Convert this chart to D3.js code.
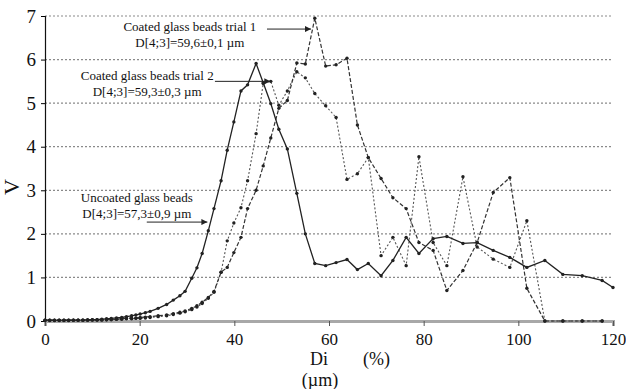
<!DOCTYPE html>
<html>
<head>
<meta charset="utf-8">
<script src="https://cdn.jsdelivr.net/npm/d3@7"></script>
<style>
  body { margin: 0; background: #fff; }
  svg text { font-family: "Liberation Serif", "Times New Roman", serif; fill: #111; }
</style>
</head>
<body>
<script>
// tick labels
let xTicks = [0, 20, 40, 60, 80, 100, 120];
let yTicks = [0, 1, 2, 3, 4, 5, 6, 7];

// uncoated glass beads (solid line)
let uncoatedDi = [0, 1, 2, 3, 4, 5, 6, 7, 8, 9, 10, 11, 12, 13, 14, 15.1, 16.2, 17.2, 18.3, 19.2, 20.1, 21.2, 22.2, 23.9, 25.7, 27.1, 28.5, 29.6, 31.0, 32.1, 33.2, 34.5, 35.7, 37.2, 38.5, 39.9, 41.4, 42.8, 44.6, 46.1, 47.7, 49.4, 51.2, 53.2, 55.0, 57.0, 59.3, 61.5, 63.8, 66.0, 68.3, 71.0, 73.5, 76.3, 79.0, 82.0, 84.9, 88.3, 91.3, 94.7, 98.2, 101.8, 105.6, 109.4, 113.5, 117.7, 120];
let uncoatedV = [0.02, 0.02, 0.02, 0.02, 0.02, 0.02, 0.02, 0.02, 0.02, 0.03, 0.03, 0.03, 0.04, 0.05, 0.06, 0.07, 0.08, 0.10, 0.12, 0.14, 0.16, 0.19, 0.22, 0.29, 0.38, 0.48, 0.58, 0.68, 0.98, 1.22, 1.55, 2.07, 2.58, 3.22, 3.92, 4.57, 5.28, 5.42, 5.91, 5.47, 4.99, 4.40, 3.95, 2.93, 2.0, 1.32, 1.27, 1.34, 1.41, 1.18, 1.32, 1.04, 1.39, 1.92, 1.55, 1.89, 1.94, 1.78, 1.80, 1.62, 1.46, 1.23, 1.39, 1.07, 1.04, 0.93, 0.77];

// coated glass beads trial 1 (dashed line)
let trial1Di = [0, 1, 2, 3, 4, 5, 6, 7, 8, 9, 10, 11, 12, 13, 14, 15.1, 16.2, 17.2, 18.3, 19.2, 20.1, 21.2, 22.2, 23.9, 25.7, 27.1, 28.5, 29.6, 31.0, 32.1, 33.2, 34.5, 35.7, 37.2, 38.5, 39.9, 41.4, 42.8, 44.6, 46.1, 47.7, 49.4, 51.2, 53.2, 55.0, 57.0, 59.3, 61.5, 63.8, 66.0, 68.3, 71.0, 73.5, 76.3, 79.0, 82.0, 84.9, 88.3, 91.3, 94.7, 98.2, 101.8, 105.6, 109.4, 113.5, 117.7];
let trial1V = [0.02, 0.02, 0.02, 0.02, 0.02, 0.02, 0.02, 0.02, 0.02, 0.02, 0.03, 0.03, 0.03, 0.03, 0.04, 0.04, 0.05, 0.06, 0.07, 0.07, 0.08, 0.09, 0.10, 0.12, 0.14, 0.17, 0.20, 0.23, 0.29, 0.35, 0.43, 0.54, 0.68, 1.12, 1.23, 1.57, 1.92, 2.58, 3.0, 3.56, 4.2, 4.88, 5.06, 5.92, 5.9, 6.95, 5.85, 5.88, 6.03, 4.5, 3.75, 3.27, 2.83, 2.58, 1.8, 1.62, 0.70, 1.16, 1.80, 2.95, 3.29, 0.75, 0, 0, 0, 0];

// coated glass beads trial 2 (dotted line)
let trial2Di = [0, 1, 2, 3, 4, 5, 6, 7, 8, 9, 10, 11, 12, 13, 14, 15.1, 16.2, 17.2, 18.3, 19.2, 20.1, 21.2, 22.2, 23.9, 25.7, 27.1, 28.5, 29.6, 31.0, 32.1, 33.2, 34.5, 35.7, 37.2, 38.5, 39.9, 41.4, 42.8, 44.6, 46.1, 47.7, 49.4, 51.2, 53.2, 55.0, 57.0, 59.3, 61.5, 63.8, 66.0, 68.3, 71.0, 73.5, 76.3, 79.0, 82.0, 84.9, 88.3, 91.3, 94.7, 98.2, 101.8, 105.6, 109.4, 113.5, 117.7];
let trial2V = [0.01, 0.01, 0.01, 0.01, 0.01, 0.01, 0.02, 0.02, 0.02, 0.02, 0.02, 0.02, 0.02, 0.03, 0.03, 0.04, 0.04, 0.05, 0.05, 0.06, 0.06, 0.07, 0.08, 0.10, 0.12, 0.15, 0.18, 0.21, 0.26, 0.32, 0.40, 0.52, 0.66, 1.12, 1.84, 2.25, 2.6, 3.22, 4.3, 5.45, 5.5, 4.95, 5.28, 5.72, 5.58, 5.22, 4.94, 4.67, 3.25, 3.38, 3.75, 1.5, 1.92, 1.27, 3.77, 1.8, 1.27, 3.31, 1.7, 1.42, 1.23, 2.30, 0, 0, 0, 0];

let width = 626, height = 389;
let serif = "'Liberation Serif', 'Times New Roman', serif";

let svg = d3.select("body").append("svg")
    .attr("width", width)
    .attr("height", height)
    .style("font-family", serif);

// scales
let xScale = d3.scaleLinear().domain([0, 120]).range([45, 613]);
let yScale = d3.scaleLinear().domain([0, 7]).range([321, 16]);

// arrow head
svg.append("defs").append("marker")
    .attr("id", "arrow")
    .attr("viewBox", "0 0 10 10")
    .attr("refX", 10).attr("refY", 5)
    .attr("markerWidth", 9).attr("markerHeight", 6)
    .attr("markerUnits", "userSpaceOnUse")
    .attr("orient", "auto")
  .append("path")
    .attr("d", "M0,0L10,5L0,10z")
    .attr("fill", "#222");

// horizontal dotted grid lines
svg.append("g")
  .selectAll("line")
  .data(yTicks.slice(1))
  .enter().append("line")
    .attr("x1", xScale(0))
    .attr("x2", xScale(120))
    .attr("y1", d => yScale(d))
    .attr("y2", d => yScale(d))
    .attr("stroke", "#8a8a8a")
    .attr("stroke-width", 1.2)
    .attr("stroke-dasharray", "2,2");

// x axis (grey baseline)
let xAxis = svg.append("g")
    .attr("transform", "translate(0," + yScale(0) + ")")
    .call(d3.axisBottom(xScale).tickValues(xTicks).tickFormat(d3.format("d")).tickSize(5).tickPadding(7));
xAxis.attr("font-family", null);
xAxis.select(".domain").attr("stroke", "#a8a8a8").attr("stroke-width", 3);
xAxis.selectAll(".tick line").attr("stroke", "#555");
xAxis.selectAll("text")
    .style("font-family", serif)
    .attr("font-size", 17)
    .attr("fill", "#111");

// y axis
let yAxis = svg.append("g")
    .attr("transform", "translate(" + xScale(0) + ",0)")
    .call(d3.axisLeft(yScale).tickValues(yTicks).tickFormat(d3.format("d")).tickSize(4).tickPadding(5));
yAxis.attr("font-family", null);
yAxis.select(".domain").attr("stroke", "#111").attr("stroke-width", 1.2);
yAxis.selectAll("text")
    .style("font-family", serif)
    .attr("font-size", 19)
    .attr("fill", "#111");

// series
let series = [
  {di: trial2Di, v: trial2V, color: "#555", width: 1.1, dash: "2,2"},
  {di: trial1Di, v: trial1V, color: "#333", width: 1.2, dash: "4,2"},
  {di: uncoatedDi, v: uncoatedV, color: "#222", width: 1.3, dash: null}
];

let line = d3.line()
    .x(d => xScale(d[0]))
    .y(d => yScale(d[1]));

series.forEach(function(s) {
  let pts = s.di.map((d, i) => [d, s.v[i]]);
  svg.append("path")
      .datum(pts)
      .attr("fill", "none")
      .attr("stroke", s.color)
      .attr("stroke-width", s.width)
      .attr("stroke-dasharray", s.dash)
      .attr("d", line);
  svg.append("g")
    .selectAll("circle")
    .data(pts)
    .enter().append("circle")
      .attr("cx", d => xScale(d[0]))
      .attr("cy", d => yScale(d[1]))
      .attr("r", 1.7)
      .attr("fill", "#222");
});

// axis titles
svg.append("text")
    .attr("transform", "translate(19,187) rotate(-90)")
    .attr("text-anchor", "middle")
    .attr("font-size", 22)
    .text("V");

svg.append("text")
    .attr("x", 319).attr("y", 365)
    .attr("text-anchor", "middle")
    .attr("font-size", 18)
    .text("Di");
svg.append("text")
    .attr("x", 363).attr("y", 365)
    .attr("font-size", 18)
    .text("(%)");
svg.append("text")
    .attr("x", 320).attr("y", 386)
    .attr("text-anchor", "middle")
    .attr("font-size", 18)
    .text("(µm)");

// annotations
let notes = [
  {lines: ["Coated glass beads trial 1", "D[4;3]=59,6±0,1 µm"], x: 30.6, y: 6.66, ax1: 46.9, ax2: 56.2, ay: 6.7},
  {lines: ["Coated glass beads trial 2", "D[4;3]=59,3±0,3 µm"], x: 21.6, y: 5.52, ax1: 35.9, ax2: 47.6, ay: 5.5},
  {lines: ["Uncoated glass beads", "D[4;3]=57,3±0,9 µm"], x: 19.4, y: 2.72, ax1: 21.5, ax2: 34.3, ay: 2.27}
];

notes.forEach(function(n) {
  let t = svg.append("text")
      .attr("text-anchor", "middle")
      .attr("font-size", 13);
  n.lines.forEach(function(l, i) {
    t.append("tspan")
        .attr("x", xScale(n.x))
        .attr("y", yScale(n.y) + i * 16)
        .text(l);
  });
  svg.append("line")
      .attr("x1", xScale(n.ax1)).attr("x2", xScale(n.ax2))
      .attr("y1", yScale(n.ay)).attr("y2", yScale(n.ay))
      .attr("stroke", "#222")
      .attr("stroke-width", 1)
      .attr("marker-end", "url(#arrow)");
});
</script>
</body>
</html>
